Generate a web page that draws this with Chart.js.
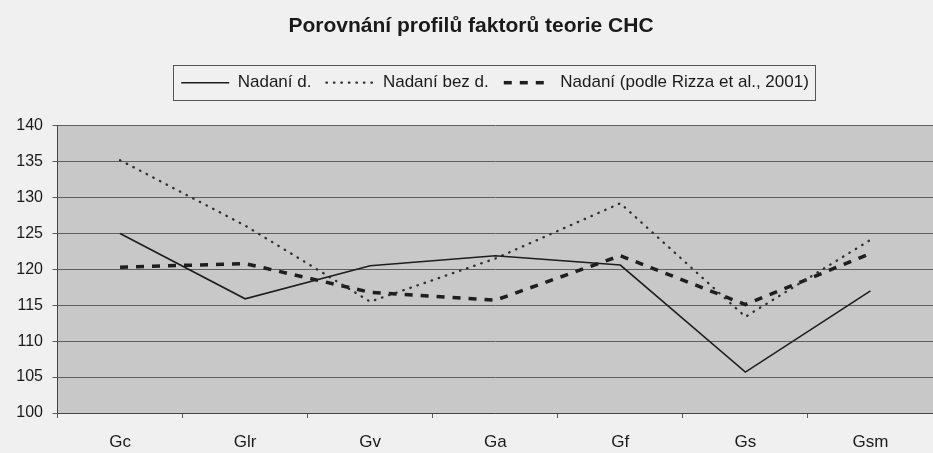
<!DOCTYPE html>
<html>
<head>
<meta charset="utf-8">
<script src="https://cdn.jsdelivr.net/npm/chart.js@4.4.0/dist/chart.umd.min.js"></script>
<style>
  html, body { margin: 0; padding: 0; background: #f0f0f0; }
  #wrap { width: 933px; height: 453px; }
</style>
</head>
<body>
<div id="wrap"><canvas id="mycanvas" width="933" height="453"></canvas></div>
<script>
// data
var faktory = ["Gc", "Glr", "Gv", "Ga", "Gf", "Gs", "Gsm"];
var nadaniD = [125.0, 115.9, 120.5, 121.9, 120.6, 105.7, 117.0];
var nadaniBezD = [135.2, 126.1, 115.5, 121.5, 129.2, 113.4, 124.1];
var nadaniRizza = [120.3, 120.8, 116.8, 115.7, 121.9, 115.1, 122.2];
var osaY = [100, 105, 110, 115, 120, 125, 130, 135, 140];

var pismo = "Arial, 'Liberation Sans', sans-serif";

// grey plot area behind the lines
var plotBg = {
	id: "plotBg",
	beforeDraw: function(chart) {
		var a = chart.chartArea, ctx = chart.ctx;
		ctx.save();
		ctx.fillStyle = "#c8c8c8";
		ctx.fillRect(a.left, a.top, a.right - a.left, a.bottom - a.top);
		ctx.restore();
	}
};

// extra room under the legend, shift it a bit right, frame around it
var legendBox = {
	id: "legendBox",
	beforeLayout: function(chart) {
		var lg = chart.legend;
		if (lg && !lg._patched) {
			var fit = lg.fit;
			lg.fit = function() {
				fit.call(this);
				this.height += 24.5;
			};
			lg._patched = true;
		}
	},
	afterLayout: function(chart) {
		chart.legend.left += 24;
		chart.legend.right += 24;
	},
	afterDraw: function(chart) {
		var hb = chart.legend.legendHitBoxes;
		if (!hb || !hb.length) return;
		var first = hb[0], last = hb[hb.length - 1];
		var ctx = chart.ctx;
		ctx.save();
		ctx.strokeStyle = "#555";
		ctx.lineWidth = 1;
		var cy = first.top + first.height / 2;
		ctx.strokeRect(Math.round(first.left - 8) + 0.5, Math.round(cy - 18) + 0.5,
			Math.round(last.left + last.width - first.left + 14), 35);
		ctx.restore();
	}
};

var chartdata = {
	labels: faktory,
	datasets: [
		{
			label: "Nadaní d.",
			data: nadaniD,
			borderColor: "#1e1e1e",
			borderWidth: 1.6,
			pointRadius: 0,
			fill: false,
			tension: 0
		},
		{
			label: "Nadaní bez d.",
			data: nadaniBezD,
			borderColor: "#2e2e2e",
			borderWidth: 2.3,
			borderDash: [0.5, 7],
			borderCapStyle: "round",
			pointRadius: 0,
			fill: false,
			tension: 0
		},
		{
			label: "Nadaní (podle Rizza et al., 2001)",
			data: nadaniRizza,
			borderColor: "#1e1e1e",
			borderWidth: 3.5,
			borderDash: [8, 8],
			pointRadius: 0,
			fill: false,
			tension: 0
		}
	]
};

var ctx = document.getElementById("mycanvas");

var graf = new Chart(ctx, {
	type: "line",
	data: chartdata,
	plugins: [plotBg, legendBox],
	options: {
		responsive: false,
		animation: false,
		layout: { padding: { left: 9, right: 0, top: 0, bottom: 0 } },
		plugins: {
			title: {
				display: true,
				text: "Porovnání profilů faktorů teorie CHC",
				color: "#1a1a1a",
				font: { family: pismo, size: 21, weight: "bold" },
				padding: { top: 14, bottom: 20 }
			},
			legend: {
				display: true,
				labels: {
					usePointStyle: true,
					pointStyle: "line",
					pointStyleWidth: 48,
					color: "#1a1a1a",
					padding: 15,
					font: { family: pismo, size: 17 },
					generateLabels: function(chart) {
						var items = Chart.defaults.plugins.legend.labels.generateLabels(chart);
						items.forEach(function(it) {
							var ds = chart.data.datasets[it.datasetIndex];
							it.lineDash = ds.borderDash || [];
							it.lineWidth = ds.borderWidth;
							it.lineCap = ds.borderCapStyle || "butt";
							it.strokeStyle = ds.borderColor;
						});
						return items;
					}
				}
			},
			tooltip: { enabled: false }
		},
		scales: {
			x: {
				offset: true,
				grid: {
					offset: true,
					drawOnChartArea: false,
					drawTicks: true,
					tickLength: 5,
					color: "#555"
				},
				border: { display: true, color: "#444", width: 1 },
				ticks: {
					color: "#1a1a1a",
					padding: 14,
					font: { family: pismo, size: 17 }
				},
				afterFit: function(scale) { scale.height = 40; }
			},
			y: {
				min: osaY[0],
				max: osaY[osaY.length - 1],
				afterBuildTicks: function(scale) {
					scale.ticks = osaY.map(function(v) { return { value: v }; });
				},
				grid: {
					color: "#5f5f5f",
					lineWidth: 1,
					tickLength: 5
				},
				border: { display: true, color: "#444", width: 1 },
				ticks: {
					color: "#1a1a1a",
					padding: 9.5,
					font: { family: pismo, size: 16 }
				},
				afterFit: function(scale) { scale.width = 48.5; }
			}
		}
	}
});
</script>
</body>
</html>
